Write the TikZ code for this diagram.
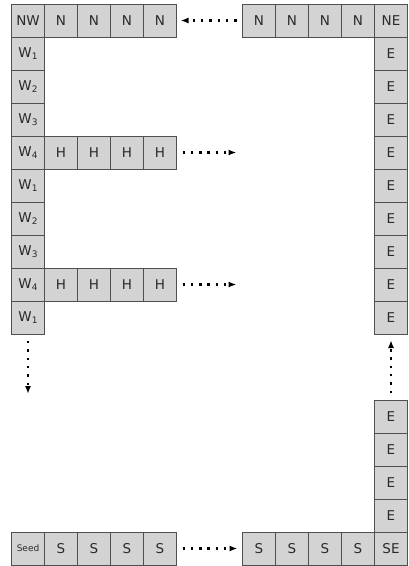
\documentclass[tikz,border=0pt]{standalone}
\usepackage{fontspec}
\setmainfont{DejaVu Sans}
\usetikzlibrary{arrows.meta}
\definecolor{cellfill}{HTML}{D3D3D3}
\definecolor{celldraw}{HTML}{505050}
\definecolor{celltext}{HTML}{2A2A2A}
\tikzset{
  cell/.style={draw=celldraw, fill=cellfill, line width=0.8pt, minimum size=33pt,
    inner sep=0pt, outer sep=0pt, text=celltext, font=\fontsize{13.5}{15}\selectfont},
  smallcell/.style={cell, font=\fontsize{9}{11}\selectfont},
  dotarrow/.style={line width=2.4pt, black, dash pattern=on 2.4pt off 5.9pt,
    -{Latex[length=8pt,width=6pt]}}
}
\newcommand{\sub}[1]{W\raisebox{-0.25ex}{\fontsize{9}{10}\selectfont #1}}
\begin{document}
\begin{tikzpicture}[x=1pt,y=-1pt]
\useasboundingbox (0,0) rectangle (408,566);
% top row
\node[cell] (nw) at (28,20.5) {NW};
\foreach \c in {1,...,4} \node[cell] (nl\c) at (28+33*\c,20.5) {N};
\foreach \c in {7,...,10} \node[cell] (nr\c) at (28+33*\c,20.5) {N};
\node[cell] (ne) at (28+33*11,20.5) {NE};
% left column
\foreach \r/\k in {1/1,2/2,3/3,4/4,5/1,6/2,7/3,8/4,9/1}
  \node[cell] (w\r) at (28,20.5+33*\r) {\sub{\k}};
% H rows
\foreach \c in {1,...,4} {
  \node[cell] (ha\c) at (28+33*\c,20.5+33*4) {H};
  \node[cell] (hb\c) at (28+33*\c,20.5+33*8) {H};
}
% right column
\foreach \r in {1,...,9} \node[cell] (e\r) at (28+33*11,20.5+33*\r) {E};
\foreach \r in {12,...,15} \node[cell] (e\r) at (28+33*11,20.5+33*\r) {E};
% bottom row
\node[smallcell] (seed) at (28,20.5+33*16) {Seed};
\foreach \c in {1,...,4} \node[cell] (sl\c) at (28+33*\c,20.5+33*16) {S};
\foreach \c in {7,...,10} \node[cell] (sr\c) at (28+33*\c,20.5+33*16) {S};
\node[cell] (se) at (28+33*11,20.5+33*16) {SE};
% free ends
\coordinate (ha) at (236.5,20.5+33*4);
\coordinate (hb) at (236.5,20.5+33*8);
\coordinate (wend) at (28,394);
% arrows
\draw[dotarrow, shorten <=6pt, shorten >=4pt] (nr7.west) -- (nl4.east);
\draw[dotarrow, shorten <=6pt] (ha4.east) -- (ha);
\draw[dotarrow, shorten <=6pt] (hb4.east) -- (hb);
\draw[dotarrow, shorten <=6pt, shorten >=5pt] (sl4.east) -- (sr7.west);
\draw[dotarrow, shorten <=7pt] (w9.south) -- (wend);
\draw[dotarrow, shorten <=7pt, shorten >=6pt] (e12.north) -- (e9.south);
\end{tikzpicture}
\end{document}
